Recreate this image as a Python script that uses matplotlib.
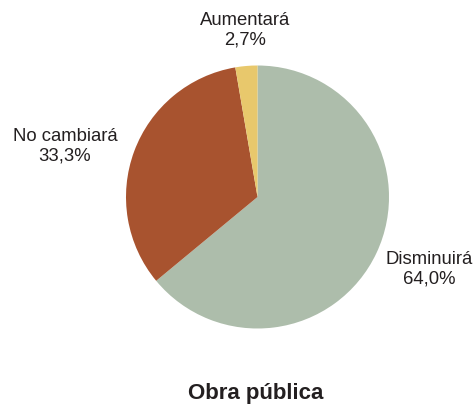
import matplotlib
matplotlib.use("Agg")
import matplotlib.pyplot as plt

categories = ["Disminuirá", "No cambiará", "Aumentará"]
values = [64.0, 33.3, 2.7]
colors = ["#adbdab", "#a8532f", "#e8c86c"]
title = "Obra pública"

plt.rcParams['font.family'] = ['Liberation Sans', 'DejaVu Sans']

W, H = 476, 407
fig = plt.figure(figsize=(W / 100, H / 100), dpi=100)
cx, cy, r = 257.5, 197, 131.5
ax = fig.add_axes([(cx - r) / W, (H - cy - r) / H, 2 * r / W, 2 * r / H])
ax.pie(values, colors=colors, startangle=90, counterclock=False, radius=1,
       wedgeprops=dict(linewidth=0))
ax.set_xlim(-1, 1)
ax.set_ylim(-1, 1)
ax.set_aspect('equal')
ax.axis('off')

label_pos = {"Disminuirá": (429, 269), "No cambiará": (65, 146), "Aumentará": (245, 30)}
for c, v in zip(categories, values):
    x, y = label_pos[c]
    txt = f"{c}\n{v:.1f}%".replace(".", ",")
    fig.text(x / W, 1 - y / H, txt, ha='center', va='center', fontsize=13.3,
             color='#231f20', linespacing=1.2)

fig.text(256 / W, 1 - 394 / H, title, ha='center', va='center', fontsize=16,
         fontweight='bold', color='#231f20')

fig.savefig("out.png", dpi=100)
